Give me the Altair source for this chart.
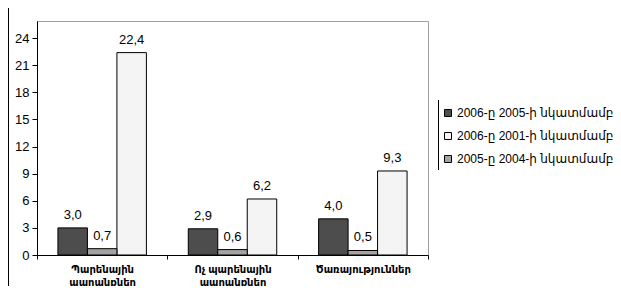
import altair as alt
import pandas as pd

categories = ["Պարենային\nապրանքներ", "Ոչ պարենային\nապրանքներ", "Ծառայություններ"]
series = ["2006-ը 2005-ի նկատմամբ", "2006-ը 2001-ի նկատմամբ", "2005-ը 2004-ի նկատմամբ"]
s_2006_2005 = [3.0, 2.9, 4.0]
s_2006_2001 = [22.4, 6.2, 9.3]
s_2005_2004 = [0.7, 0.6, 0.5]
bar_order = [series[0], series[2], series[1]]
colors = ["#4d4d4d", "#f4f4f4", "#a3a3a3"]
y_ticks = [0, 3, 6, 9, 12, 15, 18, 21, 24]

rows = []
for s, vals in zip(series, [s_2006_2005, s_2006_2001, s_2005_2004]):
    for c, v in zip(categories, vals):
        rows.append({"cat": c, "series": s, "value": v,
                     "label": f"{v:.1f}".replace(".", ",")})
df = pd.DataFrame(rows)

FONT = "Arial, Liberation Sans, DejaVu Sans, sans-serif"

x_enc = alt.X("cat:N", sort=categories, title=None,
              scale=alt.Scale(paddingInner=0, paddingOuter=0),
              axis=alt.Axis(labelAngle=0, labelExpr="split(datum.label, '\\n')",
                            labelFont=FONT, labelFontSize=10, labelFontWeight="bold",
                            labelColor="black", labelLineHeight=13,
                            domainColor="black", tickColor="black", tickSize=4,
                            tickBand="extent", labelPadding=5, labelBaseline="top"))
xo_enc = alt.XOffset("series:N", sort=bar_order,
                     scale=alt.Scale(domain=bar_order, paddingInner=0, paddingOuter=0.71))
y_enc = alt.Y("value:Q", title=None,
              scale=alt.Scale(domain=[0, 25.9], nice=False, zero=True),
              axis=alt.Axis(values=y_ticks, grid=False, labelFont=FONT, labelFontSize=13,
                            labelColor="black", domainColor="black", tickColor="black",
                            tickSize=5, labelPadding=3, labelOverlap=False,
                            labelBound=False, labelFlush=False))

bars = alt.Chart(df).mark_bar(stroke="black", strokeWidth=1).encode(
    x=x_enc, xOffset=xo_enc, y=y_enc,
    color=alt.Color("series:N", scale=alt.Scale(domain=series, range=colors),
                    legend=alt.Legend(title=None, orient="none", legendX=405, legendY=86,
                                      symbolType="square", symbolSize=49,
                                      symbolStrokeColor="black", symbolStrokeWidth=1,
                                      labelFont=FONT, labelFontSize=12, labelColor="black",
                                      rowPadding=11, labelOffset=3, padding=0,
                                      labelLimit=400)),
)

texts = alt.Chart(df).mark_text(baseline="alphabetic", dy=-9, font=FONT, fontSize=13,
                                color="black").encode(
    x=x_enc, xOffset=xo_enc, y=y_enc, text="label:N")

legend_line = alt.Chart(df).mark_rule(color="black", strokeWidth=1).encode(
    x=alt.value(401.5), y=alt.value(79), y2=alt.value(149))
left_line = alt.Chart(df).mark_rule(color="black", strokeWidth=1).encode(
    x=alt.value(-28.5), y=alt.value(-13), y2=alt.value(270))

chart = alt.layer(bars, texts, legend_line, left_line).properties(
    width=391, height=234,
    autosize=alt.AutoSizeParams(type="none"),
    padding={"left": 29, "top": 13, "right": 185, "bottom": 31},
).configure_view(stroke="#a0a0a0", strokeWidth=1)

chart.save("out.html", embed_options={"renderer": "svg", "actions": False})
